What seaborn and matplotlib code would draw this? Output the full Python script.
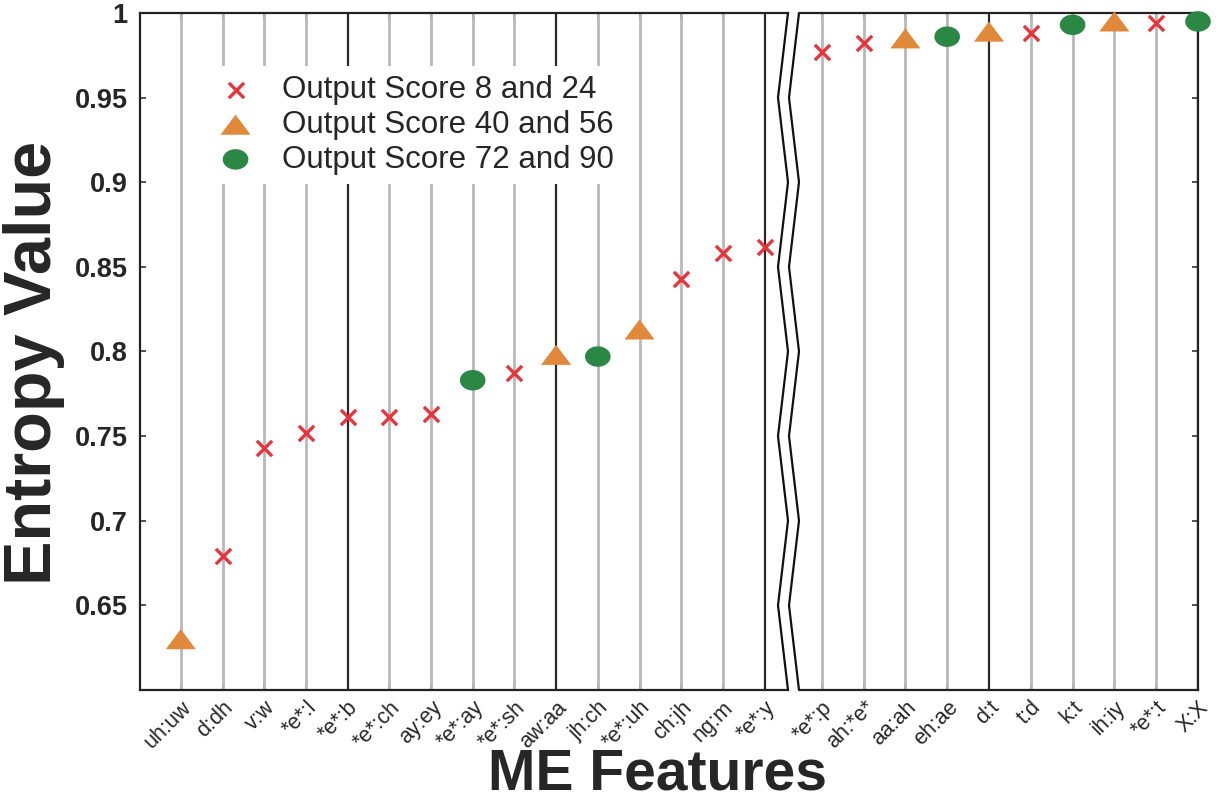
import numpy as np
import pandas as pd
import matplotlib
matplotlib.use("Agg")
import matplotlib.pyplot as plt
from matplotlib.path import Path
from matplotlib.transforms import blended_transform_factory
import seaborn as sns

# ---- data -------------------------------------------------------------
features_left = ["uh:uw", "d:dh", "v:w", "*e*:l", "*e*:b", "*e*:ch", "ay:ey",
                 "*e*:ay", "*e*:sh", "aw:aa", "jh:ch", "*e*:uh", "ch:jh",
                 "ng:m", "*e*:y"]
features_right = ["*e*:p", "ah:*e*", "aa:ah", "eh:ae", "d:t", "t:d", "k:t",
                  "ih:iy", "*e*:t", "X:X"]
entropy = [0.630, 0.679, 0.743, 0.752, 0.761, 0.761, 0.763, 0.783, 0.787,
           0.798, 0.797, 0.813, 0.843, 0.858, 0.862,
           0.977, 0.982, 0.985, 0.986, 0.989, 0.988, 0.993, 0.995, 0.994,
           0.995]
score_group = ["mid", "low", "low", "low", "low", "low", "low", "high", "low",
               "mid", "high", "mid", "low", "low", "low",
               "low", "low", "mid", "high", "mid", "low", "high", "mid",
               "low", "high"]
group_labels = {"low": "Output Score 8 and 24",
                "mid": "Output Score 40 and 56",
                "high": "Output Score 72 and 90"}
y_ticks = [0.65, 0.7, 0.75, 0.8, 0.85, 0.9, 0.95, 1.0]
y_tick_labels = ["0.65", "0.7", "0.75", "0.8", "0.85", "0.9", "0.95", "1"]
break_levels = [0.6, 0.65, 0.7, 0.75, 0.8, 0.85, 0.9, 0.95, 1.0]

features = features_left + features_right
df = pd.DataFrame({"feature": features,
                   "pos": np.arange(1, len(features) + 1),
                   "entropy": entropy,
                   "group": score_group})

# ---- style ------------------------------------------------------------
sns.set_style("ticks")
plt.rcParams["font.family"] = ["Liberation Sans", "DejaVu Sans"]

wide_triangle = Path([(-1.5, -1.0), (1.5, -1.0), (0.0, 1.0), (-1.5, -1.0)],
                     [Path.MOVETO, Path.LINETO, Path.LINETO, Path.CLOSEPOLY])
t = np.linspace(0, 2 * np.pi, 60)
ellipse = Path(np.column_stack([np.cos(t), 0.8 * np.sin(t)]), closed=True)

styles = {
    "low": dict(marker="x", color="#e8343c", s=120, linewidth=2.4),
    "mid": dict(marker=wide_triangle, color="#e0893a", s=470,
                edgecolor="none"),
    "high": dict(marker=ellipse, color="#2b8744", s=340, edgecolor="none"),
}

fig = plt.figure(figsize=(12.16, 8.02), dpi=100)
ax_l = fig.add_axes([0.1151, 0.1397, 0.5329, 0.8441])
ax_r = fig.add_axes([0.6579, 0.1397, 0.3273, 0.8441])

n_left = len(features_left)
panels = [(ax_l, df.iloc[:n_left], (0.02, 15.56)),
          (ax_r, df.iloc[n_left:], (15.48, 25.0))]

for ax, sub, xlim in panels:
    for p in sub["pos"]:
        if p % 5 == 0:
            ax.axvline(p, color="#2a2a2a", lw=1.6, zorder=1)
        else:
            ax.axvline(p, color="#b9b9b9", lw=2.0, zorder=1)
    for g in ["low", "mid", "high"]:
        part = sub[sub["group"] == g]
        sns.scatterplot(data=part, x="pos", y="entropy", ax=ax, zorder=3,
                        label=group_labels[g], legend=False, clip_on=False,
                        **styles[g])
    ax.set_xlim(*xlim)
    ax.set_ylim(0.6, 1.0)
    ax.set_xticks(sub["pos"])
    ax.set_xticklabels(sub["feature"], rotation=45, ha="right",
                       rotation_mode="anchor", fontsize=15.5)
    ax.set_yticks(y_ticks)
    ax.set_xlabel("")
    ax.set_ylabel("")
    ax.tick_params(axis="both", direction="in", length=4, width=1.2,
                   color="#333333", top=True, pad=5)
    for s in ax.spines.values():
        s.set_linewidth(1.6)
        s.set_color("#222222")

ax_l.set_yticklabels(y_tick_labels, fontsize=19.5, fontweight="bold")
ax_l.tick_params(axis="y", right=False, pad=9)
ax_l.spines["right"].set_visible(False)
ax_r.spines["left"].set_visible(False)
ax_r.tick_params(axis="y", left=False, right=True, labelleft=False)

# zig-zag axis break between the two panels
trans = blended_transform_factory(fig.transFigure, ax_l.transData)
x_near = [788 / 1216 if i % 2 == 0 else 778 / 1216
          for i in range(len(break_levels))]
for offset in (0.0, 11 / 1216):
    ax_l.plot(np.array(x_near) + offset, break_levels[::-1], color="#111111",
              lw=1.6, transform=trans, clip_on=False, zorder=5)

# axis titles
fig.text(0.028, 0.548, "Entropy Value", rotation=90, ha="center",
         va="center", fontsize=48, fontweight="bold")
fig.text(0.541, 0.001, "ME Features", ha="center", va="bottom",
         fontsize=41, fontweight="bold")

handles = ax_l.collections[:3]
leg = ax_l.legend(handles, [group_labels[g] for g in ["low", "mid", "high"]],
                  loc="upper left", bbox_to_anchor=(0.08, 0.945),
                  fontsize=22.5, frameon=True, facecolor="white",
                  edgecolor="none", framealpha=1.0, handletextpad=0.9,
                  labelspacing=0.15, borderpad=0.3, handlelength=1.2)

fig.savefig("out.png", dpi=100, facecolor="white")
